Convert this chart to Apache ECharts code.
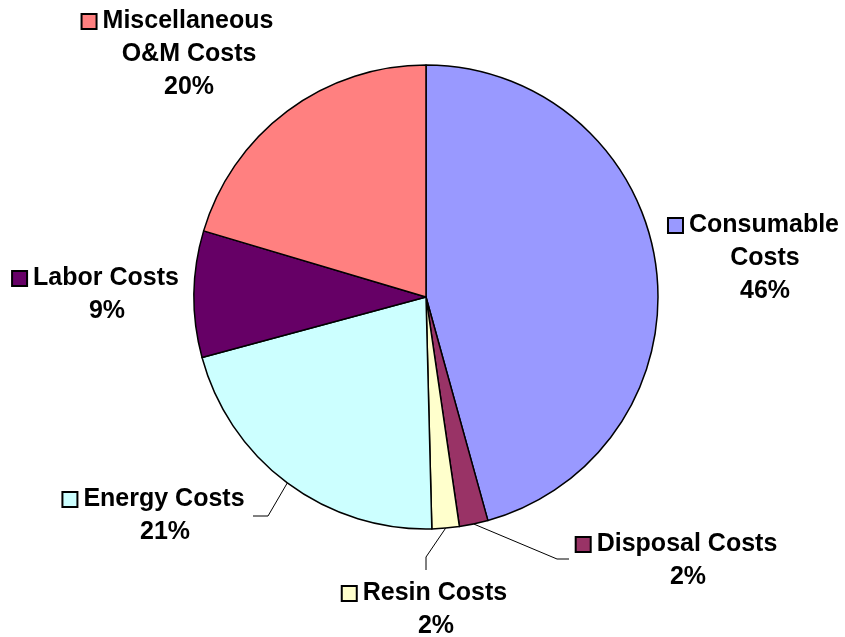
<!DOCTYPE html>
<html>
<head>
<meta charset="utf-8">
<script src="https://cdn.jsdelivr.net/npm/echarts@6/dist/echarts.min.js"></script>
<style>html,body{margin:0;padding:0;background:#fff;}#c{width:845px;height:637px;}</style>
</head>
<body>
<div id="c"></div>
<script>
const categories = ['Consumable Costs', 'Disposal Costs', 'Resin Costs', 'Energy Costs', 'Labor Costs', 'Miscellaneous O&M Costs'];
const values = [45.7, 2.0, 1.9, 21.2, 8.8, 20.4];
const labelNameLines = [['Consumable', 'Costs'], ['Disposal Costs'], ['Resin Costs'], ['Energy Costs'], ['Labor Costs'], ['Miscellaneous', 'O&M Costs']];
const colors = ['#9999FF', '#993366', '#FFFFCC', '#CCFFFF', '#660066', '#FF8080'];
const showLeader = [false, true, true, true, false, false];

// label placement (text center x, block top y) and leader-line bends
const labelPos = [[765, 209], [688, 528], [436, 577], [165, 483], [107, 262], [189, 5]];
const leaderBends = [null, [[557, 559], [569, 559]], [[426, 557], [426, 570]], [[268, 516], [253, 516]], null, null];

const chart = echarts.init(document.getElementById('c'), null, {renderer: 'canvas'});
const rich = {
  t: {fontFamily: 'Liberation Sans, Arial, sans-serif', fontWeight: 'bold', fontSize: 25, color: '#000', lineHeight: 33},
  gap: {width: 7, fontSize: 25, lineHeight: 33},
  pad: {width: 22, fontSize: 25, lineHeight: 33}
};
colors.forEach((c, i) => {
  rich['sq' + i] = {width: 13, height: 13, backgroundColor: c, borderColor: '#000', borderWidth: 2, fontSize: 1, lineHeight: 33};
});

chart.setOption({
  animation: false,
  backgroundColor: '#fff',
  series: [{
    type: 'pie',
    center: [426, 297],
    radius: 232,
    startAngle: 90,
    clockwise: true,
    avoidLabelOverlap: false,
    data: categories.map((n, i) => ({
      name: n,
      value: values[i],
      itemStyle: {color: colors[i]},
      labelLine: {show: showLeader[i]}
    })),
    itemStyle: {borderColor: '#000', borderWidth: 1.5},
    label: {
      show: true,
      position: 'outside',
      align: 'center',
      formatter: function (p) {
        const i = p.dataIndex;
        const lines = labelNameLines[i];
        let s = '{sq' + i + '| }{gap| }{t|' + lines[0] + '}{pad| }';
        for (let k = 1; k < lines.length; k++) s += '\n{t|' + lines[k] + '}';
        s += '\n{t|' + Math.round(p.percent) + '%}';
        return s;
      },
      rich: rich
    },
    labelLine: {show: true, lineStyle: {color: '#000', width: 1}, length: 10, length2: 10},
    labelLayout: function (params) {
      const i = params.dataIndex;
      const res = {x: labelPos[i][0], y: labelPos[i][1], align: 'center', verticalAlign: 'top'};
      if (leaderBends[i] && params.labelLinePoints) {
        res.labelLinePoints = [params.labelLinePoints[0]].concat(leaderBends[i]);
      }
      return res;
    },
    emphasis: {disabled: true}
  }]
});
</script>
</body>
</html>
